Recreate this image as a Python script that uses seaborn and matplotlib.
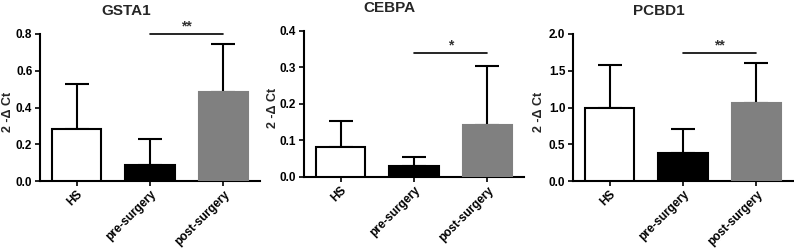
import numpy as np
import pandas as pd
import seaborn as sns
import matplotlib.pyplot as plt

# Data (mean and upper error)
groups = ['HS', 'pre-surgery', 'post-surgery']
genes = ['GSTA1', 'CEBPA', 'PCBD1']

gsta1_mean = [0.285, 0.088, 0.487]
gsta1_err = [0.242, 0.139, 0.258]
cebpa_mean = [0.082, 0.030, 0.142]
cebpa_err = [0.071, 0.024, 0.160]
pcbd1_mean = [0.998, 0.385, 1.060]
pcbd1_err = [0.585, 0.318, 0.540]

means = [gsta1_mean, cebpa_mean, pcbd1_mean]
errs = [gsta1_err, cebpa_err, pcbd1_err]
stars = ['**', '*', '**']
bracket_y = [0.80, 0.338, 1.737]
y_max = [0.8, 0.4, 2.0]
y_step = [0.2, 0.1, 0.5]

bar_colors = ['white', 'black', '#808080']
edge_colors = ['black', 'black', '#808080']

sns.set_style('white')
plt.rcParams['font.family'] = ['Liberation Sans', 'DejaVu Sans']
plt.rcParams['font.weight'] = 'bold'

fig = plt.figure(figsize=(7.94, 2.48), dpi=100)

# axes boxes in figure fractions (left, bottom, width, height)
boxes = [
    [40 / 794, 67 / 248, 220 / 794, 147 / 248],
    [304 / 794, 71.3 / 248, 220 / 794, 146 / 248],
    [573 / 794, 67 / 248, 220 / 794, 147 / 248],
]
ylabel_x = [-0.145, -0.143, -0.155]

for i, gene in enumerate(genes):
    ax = fig.add_axes(boxes[i])
    df = pd.DataFrame({'group': groups, 'value': means[i]})
    sns.barplot(data=df, x='group', y='value', hue='group', palette=bar_colors,
                legend=False, width=0.67, ax=ax, zorder=3)
    for p, ec in zip(ax.patches, edge_colors):
        p.set_edgecolor(ec)
        p.set_linewidth(1.5)

    # one-sided error bars, behind the bars
    ax.errorbar(range(len(groups)), means[i],
                yerr=[np.zeros(len(groups)), errs[i]],
                fmt='none', ecolor='black', elinewidth=1.5,
                capsize=8.5, capthick=1.5, zorder=2)

    # significance bracket between pre- and post-surgery
    ax.plot([1, 2], [bracket_y[i], bracket_y[i]], color='black', lw=1.2,
            clip_on=False, zorder=4)
    ax.text(1.5, bracket_y[i] + y_max[i] * 0.005, stars[i], ha='center',
            va='bottom', fontsize=10, color='#333333', clip_on=False)

    ax.set_xlim(-0.5, 2.5)
    ax.set_ylim(0, y_max[i])
    ax.set_yticks(np.arange(0, y_max[i] + y_step[i] / 2, y_step[i]))
    ax.set_yticklabels(['%.1f' % t for t in ax.get_yticks()])
    ax.set_xlabel('')
    ax.set_ylabel('2 -Δ Ct', fontsize=9, fontweight='bold', va='center')
    ax.yaxis.set_label_coords(ylabel_x[i], 0.47)
    ax.set_xticks(range(len(groups)))
    ax.set_xticklabels(groups, rotation=45, ha='right',
                       rotation_mode='anchor')

    ax.tick_params(axis='both', which='both', direction='out', length=3.5,
                   width=1.2, labelsize=8.5, colors='black', pad=2,
                   left=True, bottom=True)
    for lab in ax.get_xticklabels() + ax.get_yticklabels():
        lab.set_fontweight('bold')

    sns.despine(ax=ax)
    for s in ['left', 'bottom']:
        ax.spines[s].set_linewidth(1.5)
        ax.spines[s].set_color('black')

    ax.text(0.39, 1.0 + 23 / 147, gene, transform=ax.transAxes, ha='center',
            va='center', fontsize=11, fontweight='bold')

fig.savefig('out.png', dpi=100)
